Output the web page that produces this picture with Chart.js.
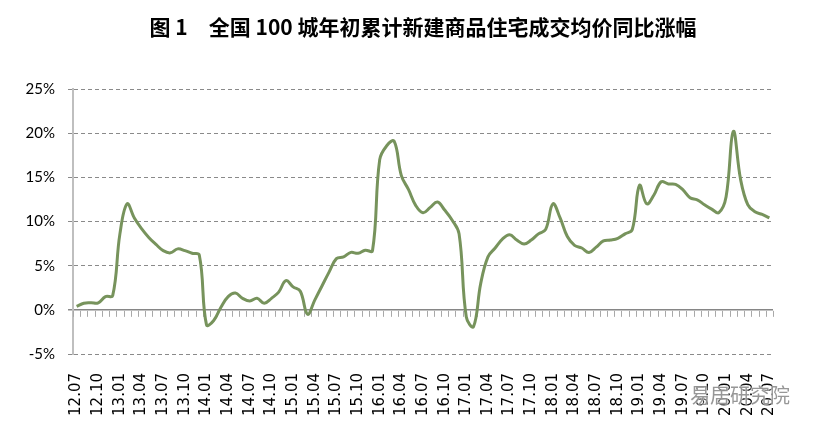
<!DOCTYPE html>
<html>
<head>
<meta charset="utf-8">
<script src="https://cdn.jsdelivr.net/npm/chart.js@4/dist/chart.umd.min.js"></script>
<style>
html,body{margin:0;padding:0;background:#fff;}
#wrap{position:relative;width:813px;height:432px;}
#title{position:absolute;left:73px;width:700px;top:14px;text-align:center;font-family:"Noto Sans CJK SC";font-weight:bold;font-size:21px;line-height:24px;color:#000;white-space:pre;}
#wm{position:absolute;left:690px;top:383px;font-family:"Noto Sans CJK SC";font-size:20px;line-height:24px;color:rgba(125,125,125,0.8);text-shadow:0 0 2px #fff,0 0 2px #fff;white-space:nowrap;}
</style>
</head>
<body>
<div id="wrap">
<canvas id="c" width="813" height="432"></canvas>
<div id="title">图 1　全国 100 城年初累计新建商品住宅成交均价同比涨幅</div>
<div id="wm">易居研究院</div>
</div>
<script>
const titleText = "图 1　全国 100 城年初累计新建商品住宅成交均价同比涨幅";
const months = [
 "12.07","12.08","12.09","12.10","12.11","12.12",
 "13.01","13.02","13.03","13.04","13.05","13.06","13.07","13.08","13.09","13.10","13.11","13.12",
 "14.01","14.02","14.03","14.04","14.05","14.06","14.07","14.08","14.09","14.10","14.11","14.12",
 "15.01","15.02","15.03","15.04","15.05","15.06","15.07","15.08","15.09","15.10","15.11","15.12",
 "16.01","16.02","16.03","16.04","16.05","16.06","16.07","16.08","16.09","16.10","16.11","16.12",
 "17.01","17.02","17.03","17.04","17.05","17.06","17.07","17.08","17.09","17.10","17.11","17.12",
 "18.01","18.02","18.03","18.04","18.05","18.06","18.07","18.08","18.09","18.10","18.11","18.12",
 "19.01","19.02","19.03","19.04","19.05","19.06","19.07","19.08","19.09","19.10","19.11","19.12",
 "20.01","20.02","20.03","20.04","20.05","20.06","20.07"
];
const shownTicks = [
 "12.07","12.10","13.01","13.04","13.07","13.10","14.01","14.04","14.07","14.10",
 "15.01","15.04","15.07","15.10","16.01","16.04","16.07","16.10","17.01","17.04",
 "17.07","17.10","18.01","18.04","18.07","18.10","19.01","19.04","19.07","19.10",
 "20.01","20.04","20.07"
];
const yoyGrowth = [
 0.4,0.75,0.8,0.8,1.5,1.6,
 8.6,12.0,10.4,9.2,8.2,7.4,6.7,6.45,6.9,6.7,6.4,6.2,
 -1.7,-1.2,0.3,1.5,1.9,1.3,1.0,1.3,0.75,1.3,2.0,3.3,
 2.6,2.1,-0.5,1.1,2.7,4.3,5.8,6.0,6.5,6.4,6.75,6.7,
 17.0,18.6,19.1,15.2,13.6,11.8,11.0,11.6,12.2,11.3,10.2,8.6,
 -0.8,-1.9,3.0,6.0,7.0,8.0,8.5,7.9,7.45,7.9,8.6,9.1,
 12.0,10.4,8.3,7.3,7.0,6.5,7.1,7.8,7.9,8.1,8.6,9.1,
 14.1,12.0,13.0,14.5,14.25,14.2,13.6,12.7,12.45,11.9,11.4,11.0,
 12.8,20.2,14.8,11.9,11.1,10.8,10.4
];
const yTicks = [-5,0,5,10,15,20,25];

const zeroAxisTicks = {
  id: 'zeroAxisTicks',
  beforeDatasetsDraw(chart) {
    const xs = chart.scales.x, ys = chart.scales.y, ctx = chart.ctx;
    const y0 = ys.getPixelForValue(0);
    const n = months.length;
    const step = xs.getPixelForValue(1) - xs.getPixelForValue(0);
    ctx.save();
    ctx.strokeStyle = '#a9a9a9';
    ctx.lineWidth = 1;
    for (let i = 0; i <= n; i++) {
      const px = Math.round(xs.getPixelForValue(0) - step / 2 + i * step) + 0.5;
      ctx.beginPath();
      ctx.moveTo(px, y0 + 1);
      ctx.lineTo(px, y0 + 7);
      ctx.stroke();
    }
    ctx.restore();
  }
};

new Chart(document.getElementById('c'), {
  type: 'line',
  data: {
    labels: months,
    datasets: [{
      data: yoyGrowth,
      borderColor: '#77935c',
      borderWidth: 3,
      pointRadius: 0,
      pointHoverRadius: 0,
      fill: false,
      tension: 0.4
    }]
  },
  options: {
    responsive: false,
    devicePixelRatio: 1,
    animation: false,
    layout: { padding: { left: 0, right: 40, top: 89, bottom: 0 } },
    plugins: { legend: { display: false }, tooltip: { enabled: false }, title: { display: false } },
    scales: {
      x: {
        type: 'category',
        offset: true,
        grid: { display: false, drawTicks: false },
        border: { display: false },
        ticks: {
          autoSkip: false,
          maxRotation: 90,
          minRotation: 90,
          padding: 19,
          color: '#000',
          font: { family: "'DejaVu Sans'", size: 15 },
          callback: function(v, i) { const l = months[i]; return shownTicks.includes(l) ? l : null; }
        },
        afterFit: function(s) { s.height = 78; }
      },
      y: {
        min: yTicks[0],
        max: yTicks[yTicks.length - 1],
        afterBuildTicks: function(s) { s.ticks = yTicks.map(v => ({ value: v })); },
        grid: {
          color: c => (c.tick && c.tick.value === 0) ? '#868686' : '#8a8a8a',
          lineWidth: c => (c.tick && c.tick.value === 0) ? 1.5 : 1,
          drawTicks: true,
          tickLength: 5,
          tickColor: '#8a8a8a'
        },
        border: {
          display: true,
          color: '#bfbfbf',
          width: 2,
          dash: c => (c.tick && c.tick.value === 0) ? [] : [4, 3]
        },
        ticks: {
          padding: 13,
          color: '#000',
          font: { family: "Lato", size: 15 },
          callback: v => v + '%'
        },
        afterFit: function(s) { s.width = 73; }
      }
    }
  },
  plugins: [zeroAxisTicks]
});
</script>
</body>
</html>
